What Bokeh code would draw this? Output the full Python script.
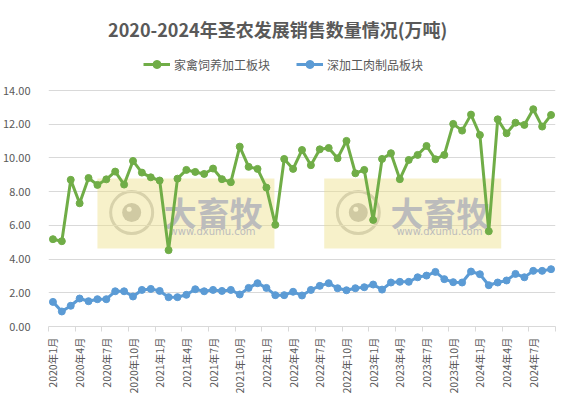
import math
from bokeh.plotting import figure
from bokeh.models import (FixedTicker, Legend, LegendItem, BoxAnnotation, Label,
                          Range1d, ColumnDataSource, NumeralTickFormatter)
from bokeh.embed import file_html
from bokeh.resources import INLINE

# ---------------- data ----------------
months = [f"{y}年{m}月" for y in range(2020, 2025) for m in range(1, 13)][:57]
tick_months = ["2020年1月", "2020年4月", "2020年7月", "2020年10月",
               "2021年1月", "2021年4月", "2021年7月", "2021年10月",
               "2022年1月", "2022年4月", "2022年7月", "2022年10月",
               "2023年1月", "2023年4月", "2023年7月", "2023年10月",
               "2024年1月", "2024年4月", "2024年7月"]
poultry = [5.18, 5.06, 8.70, 7.31, 8.81, 8.40, 8.73, 9.19, 8.42, 9.82, 9.13, 8.85,
           8.66, 4.53, 8.77, 9.29, 9.17, 9.05, 9.37, 8.74, 8.56, 10.67, 9.47, 9.35,
           8.24, 6.03, 9.94, 9.35, 10.47, 9.57, 10.51, 10.59, 9.98, 11.01, 9.09, 9.29,
           6.32, 9.94, 10.28, 8.74, 9.88, 10.18, 10.71, 9.92, 10.18, 12.02, 11.62, 12.57,
           11.36, 5.65, 12.29, 11.46, 12.09, 11.96, 12.89, 11.86, 12.55]
processed = [1.46, 0.89, 1.23, 1.66, 1.50, 1.62, 1.62, 2.09, 2.09, 1.78, 2.17, 2.23,
             2.11, 1.74, 1.74, 1.88, 2.21, 2.09, 2.17, 2.11, 2.17, 1.90, 2.29, 2.57,
             2.29, 1.86, 1.86, 2.06, 1.84, 2.17, 2.41, 2.57, 2.27, 2.15, 2.27, 2.33,
             2.49, 2.19, 2.61, 2.65, 2.65, 2.92, 3.02, 3.24, 2.81, 2.63, 2.61, 3.26,
             3.10, 2.45, 2.61, 2.73, 3.12, 2.92, 3.30, 3.30, 3.40]
y_ticks = [0, 2, 4, 6, 8, 10, 12, 14]
series_names = ["家禽饲养加工板块", "深加工肉制品板块"]
title_text = "2020-2024年圣农发展销售数量情况(万吨)"

# ---------------- styles ----------------
GREEN = "#70AD47"
BLUE = "#5B9BD5"
TXT = "#595959"
FONT = "Noto Sans CJK SC"

FRAME_H = 319
PLOT_H = 236                      # pixels spanned by the 0..14 value range
y_top = y_ticks[-1] * FRAME_H / PLOT_H

idx = list(range(len(months)))
src = ColumnDataSource(dict(x=idx, month=months, poultry=poultry, processed=processed))

p = figure(frame_width=507, frame_height=FRAME_H, output_backend="svg", toolbar_location=None,
           x_range=Range1d(-0.5, len(months) - 0.5), y_range=Range1d(0, y_top),
           min_border_left=44, min_border_right=10, min_border_top=7, min_border_bottom=66)
p.outline_line_color = None
p.background_fill_color = "white"
p.border_fill_color = "white"

# title (drawn inside the tall frame, above the value area)
p.add_layout(Label(x=25.26, y=17.62, text=title_text, text_font=FONT, text_font_size="18px",
                   text_font_style="bold", text_color=TXT, text_align="center",
                   text_baseline="middle"))

# watermarks (decoration)
for (l, r) in [(5.0, 24.9), (30.5, 50.4)]:
    p.add_layout(BoxAnnotation(left=l, right=r, bottom=4.62, top=8.78,
                               fill_color="#eee08a", fill_alpha=0.45,
                               line_alpha=0, level="underlay"))
for (cx, tx) in [(8.85, 12.45), (34.33, 37.95)]:
    p.scatter([cx], [6.76], size=42, fill_color="white", fill_alpha=0.5,
              line_color="#c6c6c6", line_width=3, level="underlay")
    p.scatter([cx], [6.76], size=19, fill_color="#b8b8b8", line_color=None, level="underlay")
    p.scatter([cx - 0.28], [6.95], size=5, fill_color="white", line_color=None, level="underlay")
    p.add_layout(Label(x=tx, y=6.82, text="大畜牧", text_font=FONT, text_font_size="33px",
                       text_font_style="bold", text_color="#bcbcbc", text_baseline="middle",
                       text_align="left", level="underlay"))
    p.add_layout(Label(x=tx + 5.5, y=5.63, text="www.dxumu.com", text_font="DejaVu Sans",
                       text_font_size="10px", text_color="#bcbcbc", text_baseline="middle",
                       text_align="center", level="underlay"))

# series
g_line = p.line("x", "poultry", source=src, line_color=GREEN, line_width=3)
g_pts = p.scatter("x", "poultry", source=src, size=7, fill_color=GREEN, line_color=GREEN)
b_line = p.line("x", "processed", source=src, line_color=BLUE, line_width=3)
b_pts = p.scatter("x", "processed", source=src, size=7, fill_color=BLUE, line_color=BLUE)

# axes
p.xgrid.visible = False
p.ygrid.ticker = FixedTicker(ticks=y_ticks)
p.ygrid.grid_line_color = "#d9d9d9"
p.ygrid.grid_line_width = 1
p.yaxis.ticker = FixedTicker(ticks=y_ticks)
p.yaxis.formatter = NumeralTickFormatter(format="0.00")
p.yaxis.axis_line_color = None
p.yaxis.major_tick_line_color = None
p.yaxis.minor_tick_line_color = None
p.yaxis.major_label_text_font = FONT
p.yaxis.major_label_text_font_size = "11px"
p.yaxis.major_label_text_color = TXT
p.yaxis.major_label_standoff = 12

tick_pos = [months.index(m) for m in tick_months]
p.xaxis.ticker = FixedTicker(ticks=tick_pos,
                             minor_ticks=[t - 0.5 for t in tick_pos] + [len(months) - 0.5])
p.xaxis.major_label_overrides = {t: months[t] for t in tick_pos}
p.xaxis.major_label_orientation = math.pi / 2
p.xaxis.axis_line_color = "#d9d9d9"
p.xaxis.major_tick_out = 0
p.xaxis.major_tick_in = 0
p.xaxis.minor_tick_out = 5
p.xaxis.minor_tick_in = 0
p.xaxis.minor_tick_line_color = "#d9d9d9"
p.xaxis.major_label_text_font = FONT
p.xaxis.major_label_text_font_size = "10.5px"
p.xaxis.major_label_text_color = TXT
p.xaxis.major_label_standoff = 6

legend = Legend(items=[LegendItem(label=series_names[0], renderers=[g_line, g_pts]),
                       LegendItem(label=series_names[1], renderers=[b_line, b_pts])],
                orientation="horizontal", location=(95, 252),
                label_text_font=FONT, label_text_font_size="12px", label_text_color=TXT,
                glyph_width=27, glyph_height=20, label_standoff=4, spacing=26,
                padding=0, margin=0, background_fill_alpha=0, border_line_color=None)
p.add_layout(legend, "center")

open("out.html", "w").write(file_html(p, INLINE))
